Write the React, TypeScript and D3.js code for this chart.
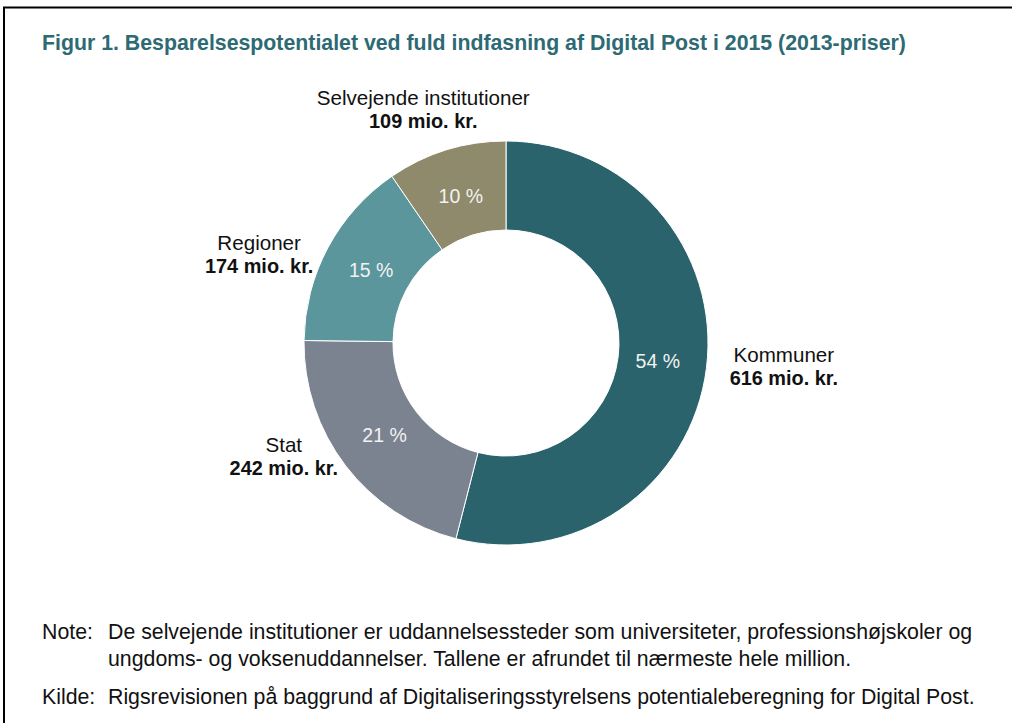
import React from "react";
import * as d3 from "d3";

const categories = ["Kommuner", "Stat", "Regioner", "Selvejende institutioner"];
const values = [616, 242, 174, 109];
const percentLabels = ["54 %", "21 %", "15 %", "10 %"];
const amountLabels = ["616 mio. kr.", "242 mio. kr.", "174 mio. kr.", "109 mio. kr."];
const colors = ["#2b636d", "#7b8391", "#5a969c", "#8e8a6b"];

const titleText = "Figur 1. Besparelsespotentialet ved fuld indfasning af Digital Post i 2015 (2013-priser)";
const noteLines = [
  "De selvejende institutioner er uddannelsessteder som universiteter, professionshøjskoler og",
  "ungdoms- og voksenuddannelser. Tallene er afrundet til nærmeste hele million.",
];
const sourceLine = "Rigsrevisionen på baggrund af Digitaliseringsstyrelsens potentialeberegning for Digital Post.";

const W = 1012;
const H = 723;
const FONT = "'Liberation Sans', Arial, Helvetica, sans-serif";

export default function App() {
  const cx = 506;
  const cy = 343;
  const R = 202;
  const r = 113;

  const pie = d3.pie<number>().sort(null).value((d) => d);
  const arcs = pie(values);
  const arc = d3.arc<d3.PieArcDatum<number>>().innerRadius(r).outerRadius(R);
  const labelArc = d3.arc<d3.PieArcDatum<number>>().innerRadius(153).outerRadius(153);

  const Rx = 280;
  const Ry = 187;
  const gap = 13;

  return (
    <div style={{ position: "absolute", left: 0, top: 0, width: W, height: H, background: "#fff" }}>
      <svg width={W} height={H} style={{ display: "block", fontFamily: FONT }}>
        <rect x={0} y={0} width={W} height={H} fill="#fff" />
        <path d={`M4,${H} L4,7.5 L${W},7.5`} fill="none" stroke="#000" strokeWidth={2} />
        <text x={42} y={50} fill="#2d6a73" fontSize={21.3} fontWeight="bold">
          {titleText}
        </text>
        <g transform={`translate(${cx},${cy})`}>
          {arcs.map((a, i) => (
            <path key={i} d={arc(a) || ""} fill={colors[i]} stroke="#fff" strokeWidth={1} />
          ))}
          {arcs.map((a, i) => {
            const [x, y] = labelArc.centroid(a);
            return (
              <text key={"p" + i} x={x} y={y} dy="0.3em" textAnchor="middle" fill="#f2f2f2" fontSize={19.5}>
                {percentLabels[i]}
              </text>
            );
          })}
          {arcs.map((a, i) => {
            const mid = (a.startAngle + a.endAngle) / 2;
            const s = Math.sin(mid);
            const c = Math.cos(mid);
            const lx = Rx * s;
            let ly = -Ry * c;
            if (Math.abs(c) > 0.7) {
              ly = c > 0 ? -(R + gap) - 18.5 : R + gap + 18.5;
            }
            return (
              <g key={"l" + i}>
                <text x={lx} y={ly - 4.5} textAnchor="middle" fill="#111" fontSize={20.6}>
                  {categories[i]}
                </text>
                <text x={lx} y={ly + 18.5} textAnchor="middle" fill="#111" fontSize={19.9} fontWeight="bold">
                  {amountLabels[i]}
                </text>
              </g>
            );
          })}
        </g>
        <g fill="#111" fontSize={21.3}>
          <text x={42} y={639}>Note:</text>
          <text x={108} y={639}>{noteLines[0]}</text>
          <text x={108} y={666}>{noteLines[1]}</text>
          <text x={42} y={704}>Kilde:</text>
          <text x={108} y={704}>{sourceLine}</text>
        </g>
      </svg>
    </div>
  );
}
